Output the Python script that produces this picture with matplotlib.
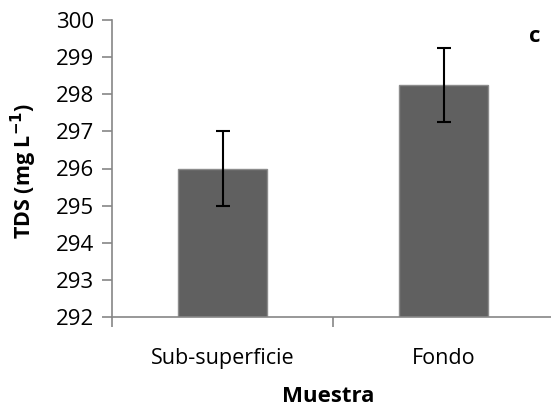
import matplotlib
matplotlib.use("Agg")
import matplotlib.pyplot as plt
import numpy as np

categories = ["Sub-superficie", "Fondo"]
values = [296.0, 298.25]
errors = [1.0, 1.0]
yticks = [292, 293, 294, 295, 296, 297, 298, 299, 300]

plt.rcParams['font.family'] = ['Open Sans', 'DejaVu Sans']

fig = plt.figure(figsize=(5.51, 4.12), dpi=100)
ax = fig.add_axes([112/551, 1 - 317/412, (554 - 112)/551, (317 - 20)/412])

x = np.arange(len(categories))
ax.bar(x, [v - 292 for v in values], bottom=292, width=0.4, color="#606060",
       edgecolor="#8c8c8c", linewidth=1.0, zorder=2)
ax.errorbar(x, values, yerr=errors, fmt="none", ecolor="black", elinewidth=1.5,
            capsize=5, capthick=1.5, zorder=3)

ax.set_xlim(-0.5, 1.5)
ax.set_ylim(292, 300)
ax.set_yticks(yticks)
ax.set_yticklabels([str(t) for t in yticks], fontsize=16)
ax.set_xticks([-0.5, 0.5, 1.5])
ax.set_xticklabels([])
ax.set_xticks(x, minor=True)
ax.set_xticklabels(categories, minor=True, fontsize=15.5)
ax.tick_params(axis="x", which="minor", length=0, pad=22)
ax.tick_params(axis="x", which="major", length=7, width=1.2, color="#868686", direction="out")
ax.tick_params(axis="y", length=7, width=1.2, color="#868686", direction="out", pad=6)

for s in ["top", "right"]:
    ax.spines[s].set_visible(False)
for s in ["left", "bottom"]:
    ax.spines[s].set_color("#868686")
    ax.spines[s].set_linewidth(1.2)

ax.set_ylabel("TDS (mg L$^{\\mathbf{-1}}$)", fontsize=15.5, fontweight="bold", va="center")
ax.yaxis.set_label_coords(24/551, 1 - 171/412, transform=fig.transFigure)
ax.set_xlabel("Muestra", fontsize=16, fontweight="bold", va="center")
ax.xaxis.set_label_coords(328/551, 1 - 396/412, transform=fig.transFigure)
fig.text(535/551, 1 - 37/412, "c", fontsize=16, fontweight="bold", ha="center", va="center")

fig.savefig("out.png", dpi=100)
